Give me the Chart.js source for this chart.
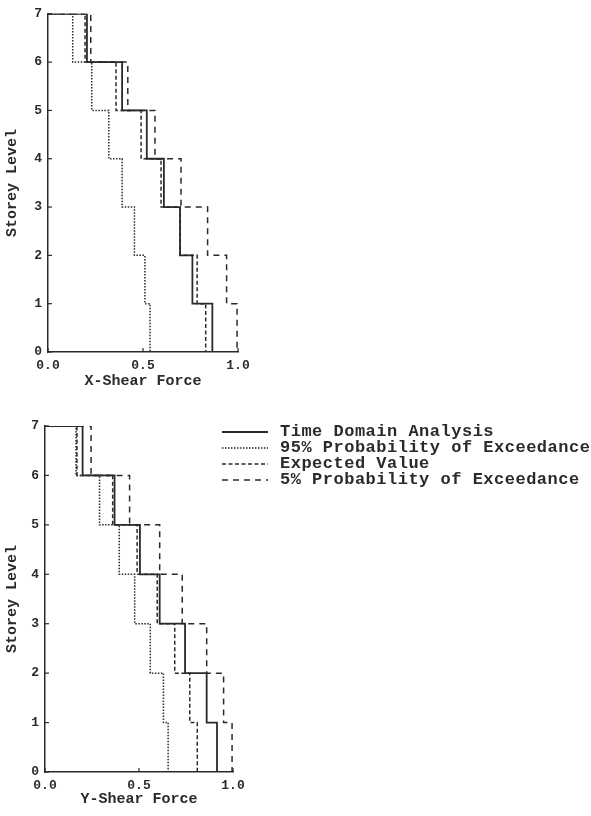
<!DOCTYPE html>
<html>
<head>
<meta charset="utf-8">
<script src="https://cdn.jsdelivr.net/npm/chart.js@4/dist/chart.umd.min.js"></script>
<style>
  html, body { margin: 0; padding: 0; background: #fff; }
  body { width: 591px; height: 816px; position: relative; overflow: hidden; }
  canvas { position: absolute; left: 0; }
  #c1 { top: 0; }
  #c2 { top: 400px; }
  #legend { position: absolute; left: 222px; top: 424px; font-family: 'Liberation Mono', monospace; font-weight: bold; font-size: 17px; letter-spacing: 0.5px; color: #2a2a2a; }
  #legend .row { height: 16px; line-height: 16px; white-space: nowrap; display: flex; align-items: center; }
  #legend svg { width: 46px; height: 16px; margin-right: 12px; flex: none; }
</style>
</head>
<body>
<canvas id="c1" width="260" height="400"></canvas>
<canvas id="c2" width="260" height="416"></canvas>
<div id="legend"></div>
<script>
// Storey levels (top of each step segment, from roof down)
const levels = [7, 6, 5, 4, 3, 2, 1];
const seriesNames = ['Time Domain Analysis', '95% Probability of Exceedance', 'Expected Value', '5% Probability of Exceedance'];
const xTickValues = [0, 0.5, 1.0];
const yTickValues = [0, 1, 2, 3, 4, 5, 6, 7];

// X-Shear Force (normalised), segment between level i and i-1
const xTime     = [0.205, 0.39, 0.52, 0.61, 0.695, 0.76, 0.865];
const x95       = [0.13, 0.23, 0.32, 0.39, 0.455, 0.51, 0.537];
const xExpected = [0.195, 0.358, 0.49, 0.595, 0.695, 0.785, 0.83];
const x5        = [0.225, 0.42, 0.563, 0.70, 0.84, 0.94, 0.995];

// Y-Shear Force (normalised)
const yTime     = [0.20, 0.37, 0.505, 0.61, 0.745, 0.86, 0.915];
const y95       = [0.165, 0.29, 0.395, 0.477, 0.56, 0.63, 0.655];
const yExpected = [0.17, 0.36, 0.49, 0.597, 0.69, 0.77, 0.81];
const y5        = [0.245, 0.45, 0.61, 0.73, 0.86, 0.95, 0.995];

const ink = '#2a2a2a';
const styles = [
  { borderWidth: 1.8, borderDash: [] },
  { borderWidth: 1.5, borderDash: [1.5, 1.5] },
  { borderWidth: 1.5, borderDash: [4, 2.5] },
  { borderWidth: 1.5, borderDash: [6, 5] }
];

function stepPoints(values) {
  const pts = [{ x: 0, y: levels[0] }];
  values.forEach((v, i) => {
    pts.push({ x: v, y: levels[i] });
    pts.push({ x: v, y: levels[i] - 1 });
  });
  return pts;
}

function datasets(arrs) {
  return arrs.map((a, i) => ({
    label: seriesNames[i],
    data: stepPoints(a),
    borderColor: ink,
    borderWidth: styles[i].borderWidth,
    borderDash: styles[i].borderDash,
    pointRadius: 0,
    fill: false,
    tension: 0,
    order: 3 - i
  }));
}

const innerTicks = {
  id: 'innerTicks',
  afterDraw(chart) {
    const ctx = chart.ctx;
    const xs = chart.scales.x, ys = chart.scales.y;
    ctx.save();
    ctx.strokeStyle = ink;
    ctx.lineWidth = 1.2;
    xTickValues.forEach(v => {
      const px = xs.getPixelForValue(v);
      ctx.beginPath(); ctx.moveTo(px, ys.bottom); ctx.lineTo(px, ys.bottom - 4); ctx.stroke();
    });
    yTickValues.forEach(v => {
      const py = ys.getPixelForValue(v);
      ctx.beginPath(); ctx.moveTo(xs.left, py); ctx.lineTo(xs.left + 4, py); ctx.stroke();
    });
    ctx.restore();
  }
};

function makeChart(id, arrs, xTitle, pad, yAxisW, xAxisH, titleBottomPad) {
  return new Chart(document.getElementById(id), {
    type: 'line',
    data: { datasets: datasets(arrs) },
    plugins: [innerTicks],
    options: {
      responsive: false,
      animation: false,
      layout: { padding: pad },
      plugins: { legend: { display: false }, tooltip: { enabled: false } },
      scales: {
        x: {
          type: 'linear', min: 0, max: 1,
          afterBuildTicks: s => { s.ticks = xTickValues.map(v => ({ value: v })); },
          ticks: { callback: v => Number(v).toFixed(1), color: ink, font: { family: 'Liberation Mono', size: 13, weight: 'bold' }, padding: 6, maxRotation: 0, autoSkip: false },
          grid: { display: false, drawTicks: false },
          border: { display: true, color: ink, width: 1.5 },
          title: { display: true, text: xTitle, color: ink, font: { family: 'Liberation Mono', size: 15, weight: 'bold' }, padding: { top: 0, bottom: titleBottomPad } },
          afterFit: s => { s.height = xAxisH; }
        },
        y: {
          type: 'linear', min: 0, max: 7,
          afterBuildTicks: s => { s.ticks = yTickValues.map(v => ({ value: v })); },
          ticks: { color: ink, font: { family: 'Liberation Mono', size: 13, weight: 'bold' }, padding: 6 },
          grid: { display: false, drawTicks: false },
          border: { display: true, color: ink, width: 1.5 },
          title: { display: true, text: 'Storey Level', color: ink, font: { family: 'Liberation Mono', size: 15, weight: 'bold' }, padding: { top: 3, bottom: 0 } },
          afterFit: s => { s.width = yAxisW; }
        }
      }
    }
  });
}

makeChart('c1', [xTime, x95, xExpected, x5], 'X-Shear Force', { top: 12, right: 22, left: 0, bottom: 0 }, 48, 48, 10);
makeChart('c2', [yTime, y95, yExpected, y5], 'Y-Shear Force', { top: 26, right: 27, left: 0, bottom: 0 }, 45, 44, 8);

// HTML legend built from the series definitions
const legend = document.getElementById('legend');
seriesNames.forEach((name, i) => {
  const row = document.createElement('div');
  row.className = 'row';
  const ns = 'http://www.w3.org/2000/svg';
  const svg = document.createElementNS(ns, 'svg');
  const line = document.createElementNS(ns, 'line');
  line.setAttribute('x1', '0'); line.setAttribute('x2', '46');
  line.setAttribute('y1', '8'); line.setAttribute('y2', '8');
  line.setAttribute('stroke', ink);
  line.setAttribute('stroke-width', styles[i].borderWidth);
  if (styles[i].borderDash.length) line.setAttribute('stroke-dasharray', styles[i].borderDash.join(' '));
  svg.appendChild(line);
  const span = document.createElement('span');
  span.textContent = name;
  row.appendChild(svg);
  row.appendChild(span);
  legend.appendChild(row);
});
</script>
</body>
</html>
